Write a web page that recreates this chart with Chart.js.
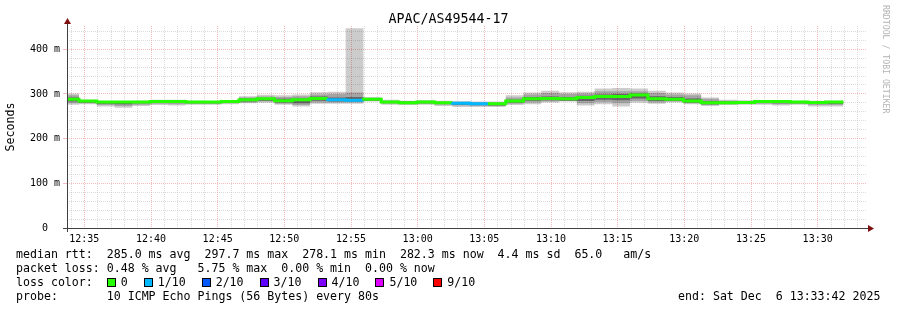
<!DOCTYPE html>
<html>
<head>
<meta charset="utf-8">
<script src="https://cdn.jsdelivr.net/npm/chart.js@4.4.0/dist/chart.umd.min.js"></script>
<style>
  html, body { margin: 0; padding: 0; background: #fff; }
  #wrap { position: relative; width: 897px; height: 310px; font-family: "DejaVu Sans Mono", monospace; color: #000; }
  #chart { position: absolute; left: 0; top: 0; }
  .title { position: absolute; top: 11px; left: 0; width: 897px; text-align: center; font-size: 13.3px; }
  .credit { position: absolute; left: 881px; top: 5px; writing-mode: vertical-rl; font-size: 8.2px; color: #b4b4b4; }
  .legend { position: absolute; left: 16px; top: 247px; font-size: 11.6px; line-height: 14px; white-space: pre; }
  .box { display: inline-block; width: 7px; height: 7px; border: 1px solid #000; vertical-align: -1px; margin-right: 5px; }
  .box + span { margin-right: 16px; }
  .end { position: absolute; left: 678px; top: 289px; font-size: 11.6px; line-height: 14px; white-space: pre; }
</style>
</head>
<body>
<div id="wrap">
  <canvas id="chart" width="897" height="310"></canvas>
  <div class="title">APAC/AS49544-17</div>
  <div class="credit">RRDTOOL / TOBI OETIKER</div>
  <div class="legend"><div>median rtt:  285.0 ms avg  297.7 ms max  278.1 ms min  282.3 ms now  4.4 ms sd  65.0   am/s</div><div>packet loss: 0.48 % avg   5.75 % max  0.00 % min  0.00 % now</div><div id="lossRow">loss color:  </div><div>probe:       10 ICMP Echo Pings (56 Bytes) every 80s</div></div>
  <div class="end">end: Sat Dec  6 13:33:42 2025</div>
</div>
<script>
// Zeitachse (Ende jedes 80s-Schritts, wie in RRD)
const viewStart = "12:33:42";
const viewEnd = "13:33:42";
const probeStep = 80;
const stepEnds = ["12:34:36", "12:35:56", "12:37:16", "12:38:36", "12:39:56", "12:41:16", "12:42:36", "12:43:56",
  "12:45:16", "12:46:36", "12:47:56", "12:49:16", "12:50:36", "12:51:56", "12:53:16", "12:54:36", "12:55:56",
  "12:57:16", "12:58:36", "12:59:56", "13:01:16", "13:02:36", "13:03:56", "13:05:16", "13:06:36", "13:07:56",
  "13:09:16", "13:10:36", "13:11:56", "13:13:16", "13:14:36", "13:15:56", "13:17:16", "13:18:36", "13:19:56",
  "13:21:16", "13:22:36", "13:23:56", "13:25:16", "13:26:36", "13:27:56", "13:29:16", "13:30:36", "13:31:56"];

// Median RTT (ms) und verlorene Pings pro Schritt
const medianRtt = [288, 284, 282, 282, 282, 283, 283, 282, 282, 283, 287, 289, 285, 287, 290, 287, 286, 288, 282, 280.5,
  282, 280, 279, 278, 278, 284, 289, 290, 289, 292, 294, 294, 297.5, 289, 288, 284, 280, 280, 281, 283, 283, 282, 281, 282];
const lossPings = [0, 0, 0, 0, 0, 0, 0, 0, 0, 0, 0, 0, 0, 0, 0, 1, 1, 0, 0, 0, 0, 0, 1, 1, 0, 0, 0, 0, 0, 0, 0, 0, 0, 0,
  0, 0, 0, 0, 0, 0, 0, 0, 0, 0];

// Smoke: min/max, mittleres Band, inneres Band (ms)
const pingMin = [276, 277, 272, 269, 273, 275, 274, 276, 276, 277, 279, 280, 276, 272, 278, 278, 278, 283, 276, 275, 276,
  273, 271, 271, 271, 275, 277, 281, 283, 274, 277, 272, 280, 278, 281, 277, 273, 275, 276, 276, 274, 276, 272, 272];
const pingMax = [301, 287, 284, 284, 285, 287, 287, 285, 284, 285, 295, 298, 297, 299, 304, 305, 447, 293, 287, 285, 286,
  285, 284, 283, 283, 297, 303, 307, 304, 305, 312, 313, 312, 307, 303, 301, 292, 287, 286, 286, 286, 285, 285, 285];
const smokeLo = [279, 279, 275, 273, 276, 278, 277, 278, 278, 279, 281, 283, 278, 275, 281, 281, 281, 284, 278, 277, 278,
  276, 274, 273, 273, 278, 281, 283, 284, 279, 282, 279, 284, 281, 283, 279, 275, 277, 278, 278, 277, 278, 275, 275];
const smokeHi = [297, 286, 283, 283, 284, 285, 285, 284, 283, 284, 292, 294, 293, 295, 299, 300, 303, 291, 285, 284, 285,
  283, 282, 281, 281, 292, 299, 302, 300, 301, 306, 306, 306, 302, 299, 297, 289, 285, 284, 285, 285, 284, 284, 284];
const coreLo = [283, 281, 278, 277, 279, 280, 280, 279, 279, 280, 283, 285, 281, 279, 285, 283, 283, 285, 280, 278, 279,
  278, 276, 275, 274, 281, 285, 286, 285, 284, 287, 286, 290, 284, 284, 281, 277, 278, 279, 280, 279, 279, 278, 278];
const coreHi = [292, 285, 283, 283, 283, 284, 284, 283, 283, 284, 290, 291, 289, 290, 294, 292, 293, 290, 284, 283, 284,
  282, 281, 279, 279, 287, 293, 294, 293, 296, 299, 300, 301, 295, 293, 290, 284, 283, 283, 285, 285, 284, 283, 283];

// Legende und Achsen
const lossLabels = ["0", "1/10", "2/10", "3/10", "4/10", "5/10", "9/10"];
const lossColors = ["#26ff00", "#00b8ff", "#0059ff", "#5e00ff", "#7e00ff", "#dd00ff", "#ff0000"];
const xTickLabels = ["12:35", "12:40", "12:45", "12:50", "12:55", "13:00", "13:05", "13:10", "13:15", "13:20", "13:25", "13:30"];
const yGridValues = [0, 20, 40, 60, 80, 100, 120, 140, 160, 180, 200, 220, 240, 260, 280, 300, 320, 340, 360, 380, 400, 420, 440];
const yTickValues = [0, 100, 200, 300, 400];
const yTickLabels = ["0  ", "100 m", "200 m", "300 m", "400 m"];

const majorGrid = "rgba(240, 120, 120, 0.5)";
const minorGrid = "rgba(175, 175, 175, 0.45)";

function toSec(t) {
  const [h, m, s] = t.split(":").map(Number);
  return h * 3600 + m * 60 + s;
}
const ends = stepEnds.map(toSec);
const xTickSecs = xTickLabels.map((t) => toSec(t + ":00"));

function stepPoints(values) {
  const pts = [{ x: ends[0] - probeStep, y: values[0] }];
  values.forEach((v, i) => pts.push({ x: ends[i], y: v }));
  return pts;
}

function lossColor(n) {
  return n <= 5 ? lossColors[n] : lossColors[lossColors.length - 1];
}

const lineBase = {
  type: "line",
  stepped: "after",
  borderWidth: 0,
  borderColor: "transparent",
  pointRadius: 0,
  pointHitRadius: 0,
};

function band(hi, lo, color) {
  return [
    { ...lineBase, data: stepPoints(hi), fill: "+1", backgroundColor: color },
    { ...lineBase, data: stepPoints(lo), fill: false },
  ];
}

// Legende "loss color"
const lossRow = document.getElementById("lossRow");
lossLabels.forEach((label, i) => {
  const box = document.createElement("span");
  box.className = "box";
  box.style.background = lossColors[i];
  const txt = document.createElement("span");
  txt.textContent = label;
  lossRow.appendChild(box);
  lossRow.appendChild(txt);
});

const axisArrows = {
  id: "axisArrows",
  afterDraw(chart) {
    const { ctx, chartArea: a } = chart;
    ctx.save();
    ctx.strokeStyle = "#404040";
    ctx.lineWidth = 1;
    ctx.beginPath();
    ctx.moveTo(a.left - 4, a.bottom + 0.5);
    ctx.lineTo(a.right + 2, a.bottom + 0.5);
    ctx.moveTo(a.left + 0.5, a.bottom + 4);
    ctx.lineTo(a.left + 0.5, a.top - 3);
    ctx.stroke();
    ctx.fillStyle = "#7f1010";
    ctx.beginPath();
    ctx.moveTo(a.right + 1, a.bottom - 3);
    ctx.lineTo(a.right + 7, a.bottom + 0.5);
    ctx.lineTo(a.right + 1, a.bottom + 4);
    ctx.fill();
    ctx.beginPath();
    ctx.moveTo(a.left - 3, a.top - 2);
    ctx.lineTo(a.left + 0.5, a.top - 8);
    ctx.lineTo(a.left + 4, a.top - 2);
    ctx.fill();
    ctx.restore();
  },
};

Chart.defaults.font.family = "'DejaVu Sans Mono', monospace";
Chart.defaults.color = "#000";

const ctx = document.getElementById("chart").getContext("2d");
new Chart(ctx, {
  type: "line",
  data: {
    datasets: [
      {
        ...lineBase,
        data: stepPoints(medianRtt),
        borderWidth: 3,
        borderColor: lossColors[0],
        fill: false,
        segment: {
          borderColor: (c) => lossColor(lossPings[c.p1DataIndex - 1]),
        },
      },
      ...band(coreHi, coreLo, "rgba(0, 0, 0, 0.39)"),
      ...band(smokeHi, smokeLo, "rgba(0, 0, 0, 0.2)"),
      ...band(pingMax, pingMin, "rgba(0, 0, 0, 0.2)"),
    ],
  },
  options: {
    responsive: false,
    animation: false,
    layout: { padding: { top: 26, right: 30, bottom: 0, left: 0 } },
    plugins: {
      legend: { display: false },
      tooltip: { enabled: false },
      title: { display: false },
    },
    scales: {
      x: {
        type: "linear",
        min: toSec(viewStart),
        max: toSec(viewEnd),
        afterFit: (scale) => { scale.height = 82; },
        afterBuildTicks: (scale) => {
          const ticks = [];
          for (let t = Math.ceil(scale.min / 60) * 60; t < scale.max; t += 60) ticks.push({ value: t });
          scale.ticks = ticks;
        },
        ticks: {
          autoSkip: false,
          maxRotation: 0,
          padding: 5,
          font: { size: 10 },
          callback: (v) => {
            const i = xTickSecs.indexOf(v);
            return i >= 0 ? xTickLabels[i] : "";
          },
        },
        grid: {
          drawTicks: false,
          color: (c) => (c.tick && xTickSecs.includes(c.tick.value) ? majorGrid : minorGrid),
        },
        border: { display: false, dash: [1, 1] },
      },
      y: {
        min: 0,
        max: 452,
        afterFit: (scale) => { scale.width = 67; },
        afterBuildTicks: (scale) => {
          scale.ticks = yGridValues.map((v) => ({ value: v }));
        },
        ticks: {
          autoSkip: false,
          padding: 3,
          font: { size: 10 },
          callback: (v) => {
            const i = yTickValues.indexOf(v);
            return i >= 0 ? yTickLabels[i] : "";
          },
        },
        title: {
          display: true,
          text: "Seconds",
          font: { size: 11.6 },
        },
        grid: {
          tickLength: 4,
          color: (c) => (c.tick && yTickValues.includes(c.tick.value) ? majorGrid : minorGrid),
          tickColor: (c) => (c.tick && yTickValues.includes(c.tick.value) ? majorGrid : "transparent"),
        },
        border: { display: false, dash: [1, 1] },
      },
    },
  },
  plugins: [axisArrows],
});
</script>
</body>
</html>
